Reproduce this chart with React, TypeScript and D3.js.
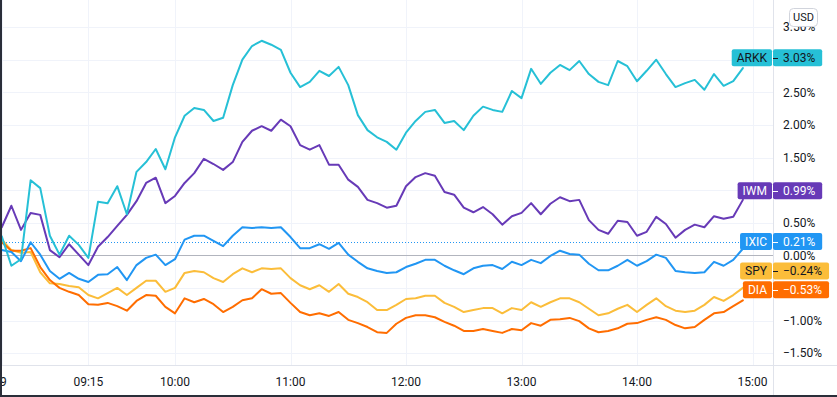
import React from 'react';
import * as d3 from 'd3';

const W = 837;
const H = 397;

// minutes after 08:30 (chart time), one reading every 5 minutes
const times = d3.range(78).map(i => i * 5);

const arkk = [0.29, -0.16, -0.06, 1.15, 1.03, 0.3, 0.01, 0.3, 0.16, -0.04, 0.82, 0.8, 1.06, 0.63, 1.28, 1.43, 1.63, 1.32, 1.81, 2.14, 2.26, 2.23, 2.06, 2.11, 2.61, 3.0, 3.21, 3.29, 3.23, 3.15, 2.8, 2.58, 2.66, 2.83, 2.75, 2.89, 2.61, 2.15, 1.92, 1.81, 1.74, 1.62, 1.88, 2.06, 2.2, 2.23, 2.03, 2.06, 1.92, 2.14, 2.28, 2.23, 2.2, 2.52, 2.41, 2.86, 2.63, 2.8, 2.92, 2.84, 2.98, 2.78, 2.66, 2.61, 2.98, 2.9, 2.67, 2.83, 3.0, 2.78, 2.58, 2.64, 2.69, 2.54, 2.78, 2.6, 2.67, 2.87];
const iwm = [0.43, 0.76, 0.39, 0.65, 0.62, 0.08, -0.03, 0.17, 0.01, -0.15, 0.13, 0.28, 0.45, 0.62, 0.83, 1.11, 1.19, 0.8, 0.91, 1.11, 1.26, 1.48, 1.4, 1.31, 1.43, 1.74, 1.91, 1.98, 1.91, 2.08, 1.98, 1.69, 1.62, 1.69, 1.39, 1.39, 1.16, 1.05, 0.85, 0.8, 0.73, 0.76, 1.06, 1.2, 1.26, 1.22, 0.97, 0.93, 0.73, 0.66, 0.74, 0.63, 0.47, 0.6, 0.65, 0.8, 0.63, 0.79, 0.89, 0.83, 0.85, 0.54, 0.39, 0.33, 0.53, 0.51, 0.3, 0.36, 0.59, 0.48, 0.27, 0.39, 0.47, 0.43, 0.6, 0.56, 0.59, 0.85];
const ixic = [0.08, 0.05, -0.09, 0.2, 0.01, -0.24, -0.36, -0.27, -0.36, -0.41, -0.3, -0.29, -0.18, -0.38, -0.15, -0.04, 0.01, -0.15, -0.06, 0.24, 0.3, 0.3, 0.22, 0.14, 0.3, 0.43, 0.42, 0.43, 0.42, 0.43, 0.28, 0.11, 0.11, 0.17, 0.1, 0.19, 0.01, -0.1, -0.2, -0.24, -0.27, -0.26, -0.18, -0.13, -0.07, -0.07, -0.16, -0.23, -0.29, -0.2, -0.16, -0.15, -0.21, -0.1, -0.15, -0.07, -0.12, -0.01, 0.07, 0.02, 0.01, -0.13, -0.23, -0.23, -0.16, -0.07, -0.16, -0.09, 0.01, -0.04, -0.24, -0.26, -0.27, -0.26, -0.1, -0.16, -0.07, 0.1];
const spy = [0.24, 0.08, 0.04, 0.05, -0.26, -0.43, -0.44, -0.47, -0.49, -0.61, -0.66, -0.58, -0.5, -0.61, -0.5, -0.39, -0.39, -0.56, -0.5, -0.27, -0.24, -0.26, -0.35, -0.41, -0.29, -0.2, -0.26, -0.2, -0.21, -0.2, -0.35, -0.46, -0.52, -0.46, -0.56, -0.44, -0.59, -0.64, -0.72, -0.84, -0.84, -0.76, -0.67, -0.66, -0.62, -0.62, -0.73, -0.79, -0.87, -0.84, -0.81, -0.81, -0.89, -0.81, -0.84, -0.72, -0.79, -0.72, -0.66, -0.66, -0.72, -0.82, -0.92, -0.89, -0.82, -0.76, -0.87, -0.76, -0.66, -0.78, -0.85, -0.87, -0.85, -0.76, -0.64, -0.7, -0.61, -0.5];
const dia = [0.2, 0.07, 0.07, 0.11, -0.18, -0.38, -0.5, -0.56, -0.61, -0.75, -0.76, -0.73, -0.78, -0.85, -0.7, -0.61, -0.62, -0.79, -0.89, -0.66, -0.72, -0.67, -0.75, -0.87, -0.79, -0.69, -0.66, -0.52, -0.59, -0.58, -0.73, -0.87, -0.92, -0.89, -0.93, -0.87, -0.99, -1.04, -1.1, -1.18, -1.19, -1.05, -0.96, -0.92, -0.92, -0.95, -1.02, -1.08, -1.16, -1.16, -1.13, -1.16, -1.19, -1.13, -1.15, -1.04, -1.08, -0.99, -0.98, -0.96, -1.01, -1.12, -1.18, -1.16, -1.12, -1.05, -1.04, -0.99, -0.95, -0.99, -1.07, -1.12, -1.1, -0.99, -0.89, -0.87, -0.78, -0.69];

const symbols = ['ARKK', 'IWM', 'IXIC', 'SPY', 'DIA'];
const seriesValues = [arkk, iwm, ixic, spy, dia];
const lineColors = ['#26c0d6', '#673ab7', '#2196f3', '#fbbd3a', '#ff6d00'];
const labelText = ['#131722', '#ffffff', '#ffffff', '#131722', '#ffffff'];
const lastValues = [3.03, 0.99, 0.21, -0.24, -0.53];
const drawOrder = [3, 4, 2, 1, 0];

const priceTicks = [3.5, 3, 2.5, 2, 1.5, 1, 0.5, 0, -0.5, -1, -1.5];
const timeTicks = [0, 45, 90, 150, 210, 270, 330, 390];
const timeLabels = ['29', '09:15', '10:00', '11:00', '12:00', '13:00', '14:00', '15:00'];

const FONT = 'Roboto, "DejaVu Sans", sans-serif';
const fmt = (v: number) => (v < 0 ? '\u2212' : '') + Math.abs(v).toFixed(2) + '%';

let ctx: CanvasRenderingContext2D | null = null;
function textWidth(s: string, size = 12) {
  if (!ctx) ctx = document.createElement('canvas').getContext('2d');
  if (!ctx) return s.length * size * 0.6;
  ctx.font = `${size}px Roboto`;
  return ctx.measureText(s).width;
}

export default function App() {
  const plotRight = 773;
  const axisTop = 365;

  const x = d3.scaleLinear().domain([0, 390]).range([1.75, 752.5]);
  const y = d3.scaleLinear().domain([-1.5, 3.5]).range([353.1, 27.1]);

  const line = d3.line<number>()
    .x((d, i) => x(times[i]))
    .y(d => y(d));

  // axis labels that sit under a last-value label are hidden, as on the chart
  const visibleTicks = priceTicks.filter(t => lastValues.every(v => Math.abs(y(t) - y(v)) > 10));

  return (
    <div style={{ position: 'absolute', left: 0, top: 0 }}>
      <svg width={W} height={H} style={{ display: 'block', fontFamily: FONT }}>
        <rect width={W} height={H} fill="#ffffff" />

        {/* grid */}
        {priceTicks.map(t => (
          <line key={'h' + t} x1={0} x2={plotRight} y1={Math.round(y(t)) + 0.5} y2={Math.round(y(t)) + 0.5} stroke="#f0f3fa" />
        ))}
        {timeTicks.map(t => (
          <line key={'v' + t} x1={Math.round(x(t)) + 0.5} x2={Math.round(x(t)) + 0.5} y1={0} y2={axisTop} stroke="#f0f3fa" />
        ))}

        {/* zero baseline */}
        <line x1={0} x2={plotRight} y1={Math.round(y(0)) + 0.5} y2={Math.round(y(0)) + 0.5} stroke="#b2b5be" />

        {/* IXIC price line */}
        <line x1={0} x2={plotRight} y1={Math.round(y(lastValues[2])) + 0.5} y2={Math.round(y(lastValues[2])) + 0.5}
          stroke={lineColors[2]} strokeDasharray="1 2" />

        {/* series */}
        <defs>
          <clipPath id="plotClip"><rect x={0} y={0} width={plotRight} height={axisTop} /></clipPath>
        </defs>
        <g clipPath="url(#plotClip)">
          {drawOrder.map(k => (
            <path key={symbols[k]} d={line(seriesValues[k]) || ''} fill="none" stroke={lineColors[k]}
              strokeWidth={2} strokeLinejoin="round" strokeLinecap="round" />
          ))}
        </g>

        {/* axis separators */}
        <line x1={plotRight + 0.5} x2={plotRight + 0.5} y1={0} y2={H} stroke="#e0e3eb" />
        <line x1={0} x2={W} y1={axisTop + 0.5} y2={axisTop + 0.5} stroke="#e0e3eb" />

        {/* price axis labels */}
        {visibleTicks.map(t => (
          <text key={'p' + t} x={783} y={y(t)} dy="0.35em" fontSize={12} fill="#131722">{fmt(t)}</text>
        ))}

        {/* time axis labels */}
        {timeTicks.map((t, i) => (
          <text key={'t' + t} x={i === 0 ? 0 : x(t)} y={382} dy="0.35em" fontSize={12} fill="#131722" textAnchor="middle">{timeLabels[i]}</text>
        ))}

        {/* last value labels */}
        {symbols.map((s, k) => {
          const yv = y(lastValues[k]);
          const nw = textWidth(s) + 10;
          const vt = fmt(lastValues[k]);
          const vw = textWidth(vt) + 17;
          return (
            <g key={'l' + s}>
              <rect x={plotRight - 1 - nw} y={yv - 8.5} width={nw} height={17} rx={2} fill={lineColors[k]} />
              <text x={plotRight - 1 - nw / 2} y={yv} dy="0.35em" textAnchor="middle" fontSize={12} fill={labelText[k]}>{s}</text>
              <rect x={plotRight} y={yv - 8.5} width={vw} height={17} rx={2} fill={lineColors[k]} />
              <line x1={plotRight} x2={plotRight + 5} y1={Math.round(yv) + 0.5} y2={Math.round(yv) + 0.5} stroke={labelText[k]} />
              <text x={783} y={yv} dy="0.35em" fontSize={12} fill={labelText[k]}>{vt}</text>
            </g>
          );
        })}

        {/* currency badge */}
        <rect x={789.5} y={8.5} width={28} height={18} rx={4} fill="#ffffff" stroke="#d1d4dc" />
        <text x={803.5} y={17.5} dy="0.35em" textAnchor="middle" fontSize={11} fill="#131722">USD</text>

        {/* frame */}
        <rect x={0} y={0} width={2} height={H} fill="#2a2e39" />
        <rect x={0} y={395} width={W} height={2} fill="#2a2e39" />
      </svg>
    </div>
  );
}
